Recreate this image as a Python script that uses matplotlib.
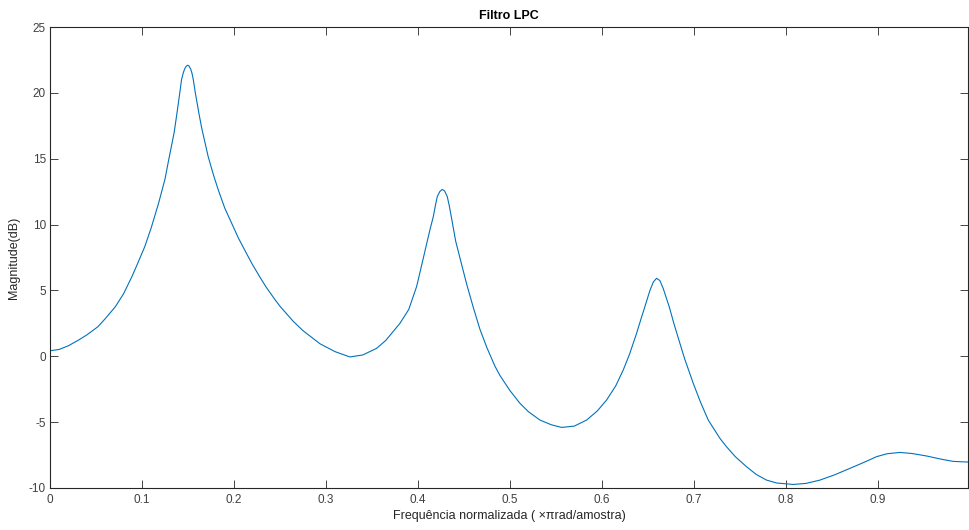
import matplotlib
matplotlib.use("Agg")
import matplotlib.pyplot as plt

freq = [0.000, 0.010, 0.020, 0.031, 0.040, 0.052, 0.060, 0.071, 0.080, 0.089,
        0.095, 0.103, 0.110, 0.118, 0.125, 0.129, 0.135, 0.138, 0.141, 0.143,
        0.145, 0.1467, 0.1482, 0.1497, 0.1512, 0.153, 0.1545, 0.1558, 0.158, 0.162,
        0.165, 0.172, 0.178, 0.183, 0.190, 0.1975, 0.205, 0.219, 0.2283, 0.235,
        0.2446, 0.250, 0.2645, 0.275, 0.2935, 0.310, 0.326, 0.340, 0.355, 0.365,
        0.3804, 0.390, 0.3986, 0.405, 0.410, 0.413, 0.4167, 0.419, 0.421, 0.4237,
        0.4264, 0.429, 0.4319, 0.434, 0.4366, 0.441, 0.447, 0.4529, 0.460, 0.4674,
        0.475, 0.4837, 0.4891, 0.500, 0.5109, 0.520, 0.5326, 0.545, 0.5562, 0.570,
        0.5834, 0.595, 0.6051, 0.615, 0.6232, 0.630, 0.6377, 0.643, 0.6467, 0.6522,
        0.656, 0.6594, 0.663, 0.6666, 0.6732, 0.678, 0.6848, 0.690, 0.6993, 0.707,
        0.7156, 0.7283, 0.7355, 0.745, 0.7573, 0.768, 0.779, 0.790, 0.808, 0.822,
        0.837, 0.853, 0.8696, 0.885, 0.8986, 0.910, 0.9239, 0.937, 0.953, 0.968,
        0.982, 0.998]
mag_db = [0.42, 0.52, 0.80, 1.23, 1.62, 2.24, 2.85, 3.76, 4.75, 6.04,
          7.00, 8.32, 9.75, 11.61, 13.45, 14.9, 17.0, 18.45, 19.95, 21.0,
          21.55, 21.86, 22.03, 22.1, 22.03, 21.8, 21.45, 21.0, 20.0, 18.4,
          17.3, 15.15, 13.7, 12.62, 11.25, 10.1, 8.95, 7.1, 6.0, 5.25,
          4.3, 3.8, 2.65, 1.95, 0.95, 0.35, -0.05, 0.1, 0.6, 1.2,
          2.5, 3.55, 5.3, 7.2, 8.7, 9.59, 10.6, 11.45, 12.12, 12.5,
          12.67, 12.55, 12.12, 11.45, 10.47, 8.75, 7.1, 5.5, 3.75, 2.05,
          0.65, -0.75, -1.45, -2.6, -3.57, -4.2, -4.84, -5.2, -5.4, -5.3,
          -4.84, -4.15, -3.32, -2.25, -1.04, 0.15, 1.74, 2.95, 3.76, 5.0,
          5.65, 5.92, 5.75, 5.16, 3.76, 2.55, 0.98, -0.2, -2.05, -3.45,
          -4.84, -6.23, -6.87, -7.62, -8.39, -8.98, -9.4, -9.62, -9.73, -9.65,
          -9.4, -9.0, -8.51, -8.05, -7.62, -7.4, -7.3, -7.38, -7.57, -7.8,
          -7.98, -8.03]

xticks = [0, 0.1, 0.2, 0.3, 0.4, 0.5, 0.6, 0.7, 0.8, 0.9]
xticklabels = ["0", "0.1", "0.2", "0.3", "0.4", "0.5", "0.6", "0.7", "0.8", "0.9"]
yticks = [-10, -5, 0, 5, 10, 15, 20, 25]
yticklabels = ["-10", "-5", "0", "5", "10", "15", "20", "25"]

plt.rcParams['font.family'] = ['Liberation Sans', 'DejaVu Sans']
axc = '#262626'
fig = plt.figure(figsize=(9.69, 5.30), dpi=100)
ax = fig.add_axes([50/969, 42/530, 918/969, 461/530])
ax.plot(freq, mag_db, color='#0072BD', lw=0.8, solid_joinstyle='round')
ax.set_xlim(0, 0.998)
ax.set_ylim(-10, 25)
ax.set_xticks(xticks)
ax.set_xticklabels(xticklabels)
ax.set_yticks(yticks)
ax.set_yticklabels(yticklabels)
ax.tick_params(direction='in', length=5.5, width=0.6, colors=axc, labelsize=8.5,
               top=True, right=True, labelcolor='#404040')
ax.tick_params(axis='x', pad=4)
ax.tick_params(axis='y', pad=3)
for s in ax.spines.values():
    s.set_color(axc)
    s.set_linewidth(0.8)
ax.set_title('Filtro LPC', fontsize=9, fontweight='bold', color='black', pad=6)
ax.set_xlabel('Frequência normalizada ( ×πrad/amostra)', fontsize=9, color=axc, labelpad=3)
ax.set_ylabel('Magnitude(dB)', fontsize=9, color=axc, labelpad=6)
fig.savefig('out.png', dpi=100)
